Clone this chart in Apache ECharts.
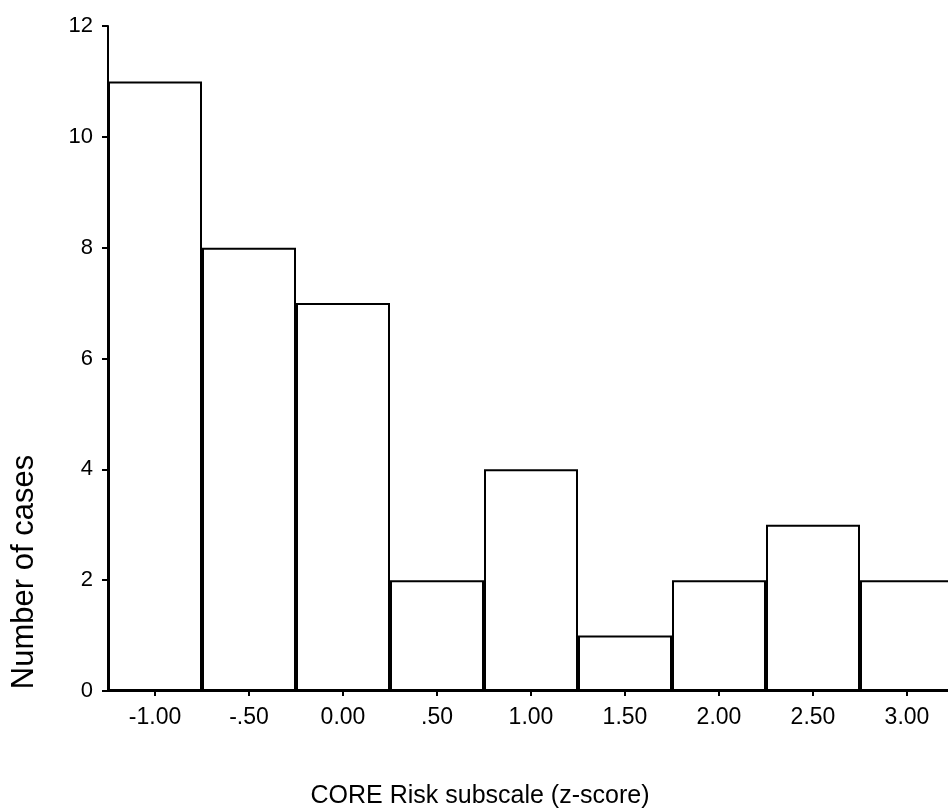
<!DOCTYPE html>
<html>
<head>
<meta charset="utf-8">
<script src="https://cdn.jsdelivr.net/npm/echarts@6/dist/echarts.min.js"></script>
<style>
html,body{margin:0;padding:0;background:#fff;}
#chart{width:948px;height:812px;}
</style>
</head>
<body>
<div id="chart"></div>
<script>
const categories = ['-1.00', '-.50', '0.00', '.50', '1.00', '1.50', '2.00', '2.50', '3.00'];
const counts = [11, 8, 7, 2, 4, 1, 2, 3, 2];
const yTitle = 'Number of cases';
const xTitle = 'CORE Risk subscale (z-score)';

const chart = echarts.init(document.getElementById('chart'));
const font = '"Liberation Sans", Arial, sans-serif';
chart.setOption({
  backgroundColor: '#fff',
  animation: false,
  grid: { left: 108, top: 26, width: 846, height: 665, outerBoundsMode: 'none', containLabel: false },
  xAxis: {
    type: 'category',
    data: categories,
    axisLine: { show: true, lineStyle: { color: '#000', width: 2 } },
    axisTick: { show: true, alignWithLabel: true, length: 5, lineStyle: { color: '#000', width: 2 } },
    axisLabel: { color: '#000', fontFamily: font, fontSize: 23, margin: 15 },
    splitLine: { show: false }
  },
  yAxis: {
    type: 'value',
    min: 0, max: 12, interval: 2,
    axisLine: { show: true, lineStyle: { color: '#000', width: 2 } },
    axisTick: { show: true, length: 6, lineStyle: { color: '#000', width: 2 } },
    axisLabel: { color: '#000', fontFamily: font, fontSize: 22, margin: 15 },
    splitLine: { show: false }
  },
  graphic: [
    {
      type: 'text',
      x: 24, y: 572,
      rotation: Math.PI / 2,
      style: { text: yTitle, font: '31px ' + font, fill: '#000', textAlign: 'center', textVerticalAlign: 'middle' }
    },
    {
      type: 'text',
      x: 480, y: 796,
      style: { text: xTitle, font: '25px ' + font, fill: '#000', textAlign: 'center', textVerticalAlign: 'middle' }
    }
  ],
  series: [{
    type: 'bar',
    data: counts,
    barCategoryGap: '0%',
    itemStyle: { color: '#fff', borderColor: '#000', borderWidth: 2 },
    silent: true
  }]
});
</script>
</body>
</html>
